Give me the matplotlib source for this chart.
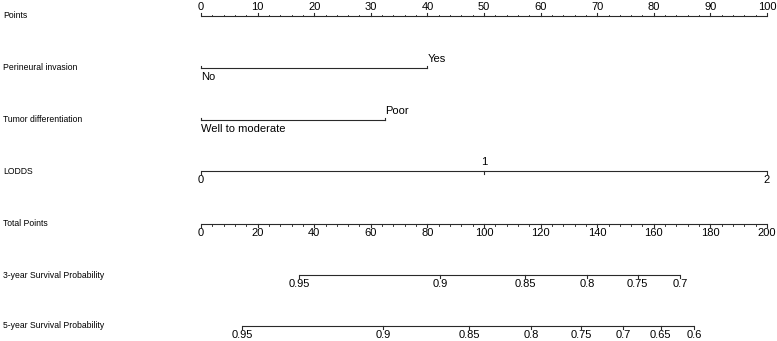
import numpy as np
import matplotlib
matplotlib.use('Agg')
import matplotlib.pyplot as plt

plt.rcParams['font.family'] = ['Liberation Sans', 'DejaVu Sans']

# row names
rows = ['Points', 'Perineural invasion', 'Tumor differentiation', 'LODDS',
        'Total Points', '3-year Survival Probability', '5-year Survival Probability']

# points scale
pts_major = np.arange(0, 101, 10)
pts_minor = np.arange(0, 101, 2)

# categorical predictors (points)
pni_labels = ['No', 'Yes']
pni_points = [0, 40]
diff_labels = ['Well to moderate', 'Poor']
diff_points = [0, 32.5]

# continuous predictor
lodds_values = [0, 1, 2]
lodds_points = [0, 50, 100]

# total points scale
tot_major = np.arange(0, 201, 20)
tot_minor = np.arange(0, 201, 4)

# survival (total points positions)
surv3_labels = ['0.95', '0.9', '0.85', '0.8', '0.75', '0.7']
surv3_total = [34.6, 84.5, 114.6, 136.5, 154.3, 169.3]
surv5_labels = ['0.95', '0.9', '0.85', '0.8', '0.75', '0.7', '0.65', '0.6']
surv5_total = [14.6, 64.4, 94.7, 116.6, 134.4, 149.2, 162.5, 174.3]

fig = plt.figure(figsize=(7.77, 3.41), dpi=100)
ax = fig.add_axes([0, 0, 1, 1])
ax.set_xlim(-201 / 5.66, (777 - 201) / 5.66)
ax.set_ylim(341, 0)
ax.axis('off')

lc = '#2a2a2a'
lw = 0.8
fs_row = 6.2
fs_tick = 8


def scale(y, pos, labels, up=False, below=True, minor=None, alt=False):
    ax.plot([min(pos), max(pos)], [y, y], color=lc, lw=lw, solid_capstyle='butt')
    d = -3 if up else 3
    for p in pos:
        ax.plot([p, p], [y, y + d], color=lc, lw=lw)
    if minor is not None:
        for p in minor:
            ax.plot([p, p], [y, y + d * 0.5], color=lc, lw=lw * 0.8)
    for i, (p, l) in enumerate(zip(pos, labels)):
        if alt:
            on_top = i % 2 == 1
        else:
            on_top = not below
        if on_top:
            ax.text(p, y - 4, l, ha='center', va='bottom', fontsize=fs_tick)
        else:
            ax.text(p, y + 4, l, ha='center', va='top', fontsize=fs_tick)


row_y = [16, 68, 120, 171, 224, 275, 326]
for name, y in zip(rows, row_y):
    ax.text(-201 / 5.66 + 3 / 5.66, y, name, ha='left', va='center', fontsize=fs_row)

scale(row_y[0], pts_major, [str(v) for v in pts_major], up=True, below=False, minor=pts_minor)

# categorical: left label below, right label above, left aligned
for y, labs, pp in [(row_y[1], pni_labels, pni_points), (row_y[2], diff_labels, diff_points)]:
    ax.plot([pp[0], pp[1]], [y, y], color=lc, lw=lw)
    for p in pp:
        ax.plot([p, p], [y, y - 2.5], color=lc, lw=lw)
    ax.text(pp[0], y + 4, labs[0], ha='left', va='top', fontsize=fs_tick)
    ax.text(pp[1], y - 4, labs[1], ha='left', va='bottom', fontsize=fs_tick)

scale(row_y[3], lodds_points, [str(v) for v in lodds_values], alt=True)

tot_pos = tot_major / 2
scale(row_y[4], tot_pos, [str(v) for v in tot_major], minor=tot_minor / 2)

scale(row_y[5], np.array(surv3_total) / 2, surv3_labels)
scale(row_y[6], np.array(surv5_total) / 2, surv5_labels)

fig.savefig('out.png', dpi=100)
